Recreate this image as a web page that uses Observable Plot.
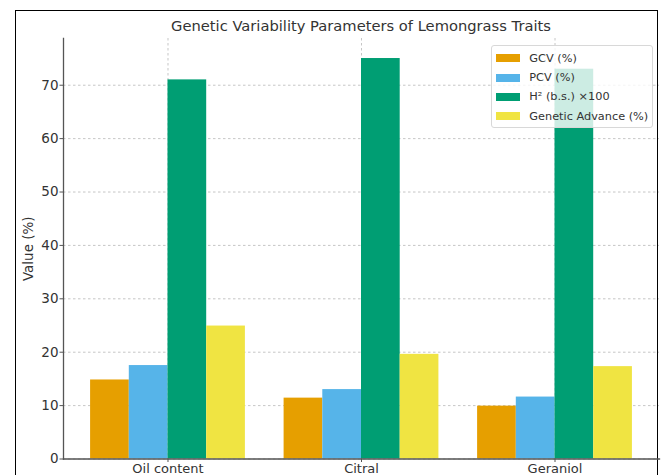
<!DOCTYPE html>
<html>
<head>
<meta charset="utf-8">
<script src="https://cdn.jsdelivr.net/npm/d3@7"></script>
<script src="https://cdn.jsdelivr.net/npm/@observablehq/plot@0.6"></script>
<style>
  html, body { margin: 0; padding: 0; background: #fff; }
  #wrap { position: relative; width: 663px; height: 475px; overflow: hidden; font-family: "DejaVu Sans", sans-serif; color: #333; }
  #frame { position: absolute; left: 14.5px; top: 9.5px; width: 643px; height: 520px; border: 1.5px solid #000; border-bottom: none; box-sizing: border-box; }
  #title { position: absolute; left: 63px; width: 596px; top: 16.6px; line-height: 18px; font-size: 14.7px; text-align: center; white-space: nowrap; color: #333; }
  #chart { position: absolute; left: 0; top: 0; }
  #legend { position: absolute; left: 491px; top: 45px; width: 162px; height: 83px; box-sizing: border-box; border: 1px solid #d8d8d8; border-radius: 3px; background: rgba(255,255,255,0.8); }
  .row { position: absolute; left: 0; height: 19.3px; display: flex; align-items: center; font-size: 11.3px; color: #333; white-space: nowrap; }
  .sw { margin-left: 4px; width: 24px; height: 8px; }
  .lab { margin-left: 9.3px; }
</style>
</head>
<body>
<div id="wrap">
  <div id="frame"></div>
  <div id="chart"></div>
  <div id="title"></div>
  <div id="legend"></div>
</div>
<script>
// ---- data ----
const title = "Genetic Variability Parameters of Lemongrass Traits";
const categories = ["Oil content", "Citral", "Geraniol"];
const series = ["GCV (%)", "PCV (%)", "H² (b.s.) ×100", "Genetic Advance (%)"];
const colors = ["#E69F00", "#56B4E9", "#009E73", "#F0E442"];
const gcv = [14.8, 11.4, 9.9];
const pcv = [17.5, 13.0, 11.6];
const h2 = [71, 75, 73];
const ga = [24.9, 19.6, 17.3];
const yTicks = [0, 10, 20, 30, 40, 50, 60, 70];
const yLabel = "Value (%)";

// grouped-bar layout (like matplotlib: bar width 0.2, groups centred on category index)
const barWidth = 0.2;
const valuesBySeries = [gcv, pcv, h2, ga];
const data = [];
categories.forEach((c, i) => {
  series.forEach((s, j) => {
    const x1 = i + (j - series.length / 2) * barWidth;
    data.push({category: c, series: s, value: valuesBySeries[j][i], x1, x2: x1 + barWidth});
  });
});
const catIdx = categories.map((c, i) => i);

document.getElementById("title").textContent = title;

const chart = Plot.plot({
  width: 663,
  height: 475,
  marginLeft: 63,
  marginRight: 4,
  marginTop: 38,
  marginBottom: 16.5,
  style: {fontFamily: "DejaVu Sans, sans-serif", fontSize: "13.5px", color: "#333", background: "transparent"},
  x: {domain: [-0.54, 2.54]},
  y: {domain: [0, 78.75]},
  color: {domain: series, range: colors},
  marks: [
    Plot.gridY(yTicks, {stroke: "#b8b8b8", strokeOpacity: 1, strokeDasharray: "2.5,2.5", strokeWidth: 0.8}),
    Plot.gridX(catIdx, {stroke: "#b8b8b8", strokeOpacity: 1, strokeDasharray: "2.5,2.5", strokeWidth: 0.8}),
    Plot.rectY(data, {x1: "x1", x2: "x2", y: "value", fill: "series"}),
    Plot.frame({anchor: "left", stroke: "#555", strokeWidth: 1.3}),
    Plot.frame({anchor: "bottom", stroke: "#555", strokeWidth: 1.3}),
    Plot.axisY(yTicks, {tickSize: 3.5, tickPadding: 1.5, stroke: "#555", label: yLabel, labelAnchor: "center", labelOffset: 40, labelArrow: "none"}),
    Plot.axisX(catIdx, {anchor: "bottom", tickSize: 3.5, tickPadding: 1, fontSize: 13, label: null, stroke: "#555", tickFormat: i => categories[i]})
  ]
});
document.getElementById("chart").appendChild(chart);

// legend
const legend = document.getElementById("legend");
const rowCenters = [12.3, 31.6, 50.9, 70.2];
series.forEach((s, i) => {
  const row = document.createElement("div");
  row.className = "row";
  row.style.top = (rowCenters[i] - 9.65) + "px";
  const sw = document.createElement("div");
  sw.className = "sw";
  sw.style.background = colors[i];
  const lab = document.createElement("span");
  lab.className = "lab";
  lab.textContent = s;
  row.appendChild(sw);
  row.appendChild(lab);
  legend.appendChild(row);
});
</script>
</body>
</html>
